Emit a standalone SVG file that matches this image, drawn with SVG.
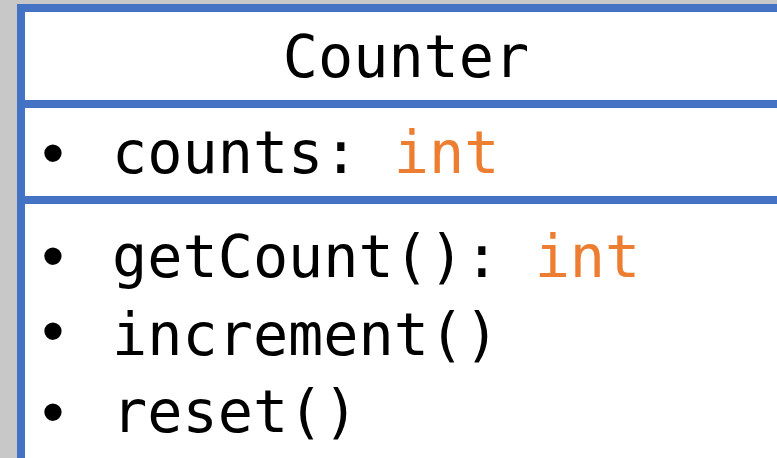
<svg xmlns="http://www.w3.org/2000/svg" width="777" height="458" viewBox="0 0 777 458">
  <style>
    .edge { fill: #4472C4; }
    .t { font-family: "DejaVu Sans Mono", "Liberation Mono", monospace; font-size: 58.5px; fill: #000; }
    .ty { fill: #ED7D31; }
    .b { font-family: "Liberation Sans", Arial, sans-serif; font-size: 64px; fill: #000; text-anchor: middle; }
  </style>
  <!-- page backdrop -->
  <rect x="0" y="0" width="777" height="458" fill="#C8C8C8"/>
  <g id="counter-class">
    <rect x="17" y="4" width="760" height="454" fill="#FFFFFF"/>
    <!-- frame and compartment dividers -->
    <rect class="edge" x="17" y="4" width="760" height="8"/>
    <rect class="edge" x="17" y="4" width="8" height="454"/>
    <rect class="edge" x="17" y="100" width="760" height="8"/>
    <rect class="edge" x="17" y="196" width="760" height="8"/>
    <!-- name -->
    <text class="t" x="406" y="77" text-anchor="middle">Counter</text>
    <!-- attributes -->
    <text class="b" x="53" y="175">•</text>
    <text class="t" x="112" y="173">counts: <tspan class="ty">int</tspan></text>
    <!-- operations -->
    <text class="b" x="53" y="278">•</text>
    <text class="t" x="112" y="277">getCount(): <tspan class="ty">int</tspan></text>
    <text class="b" x="53" y="353">•</text>
    <text class="t" x="112" y="355">increment()</text>
    <text class="b" x="53" y="434">•</text>
    <text class="t" x="112" y="432">reset()</text>
  </g>
</svg>
